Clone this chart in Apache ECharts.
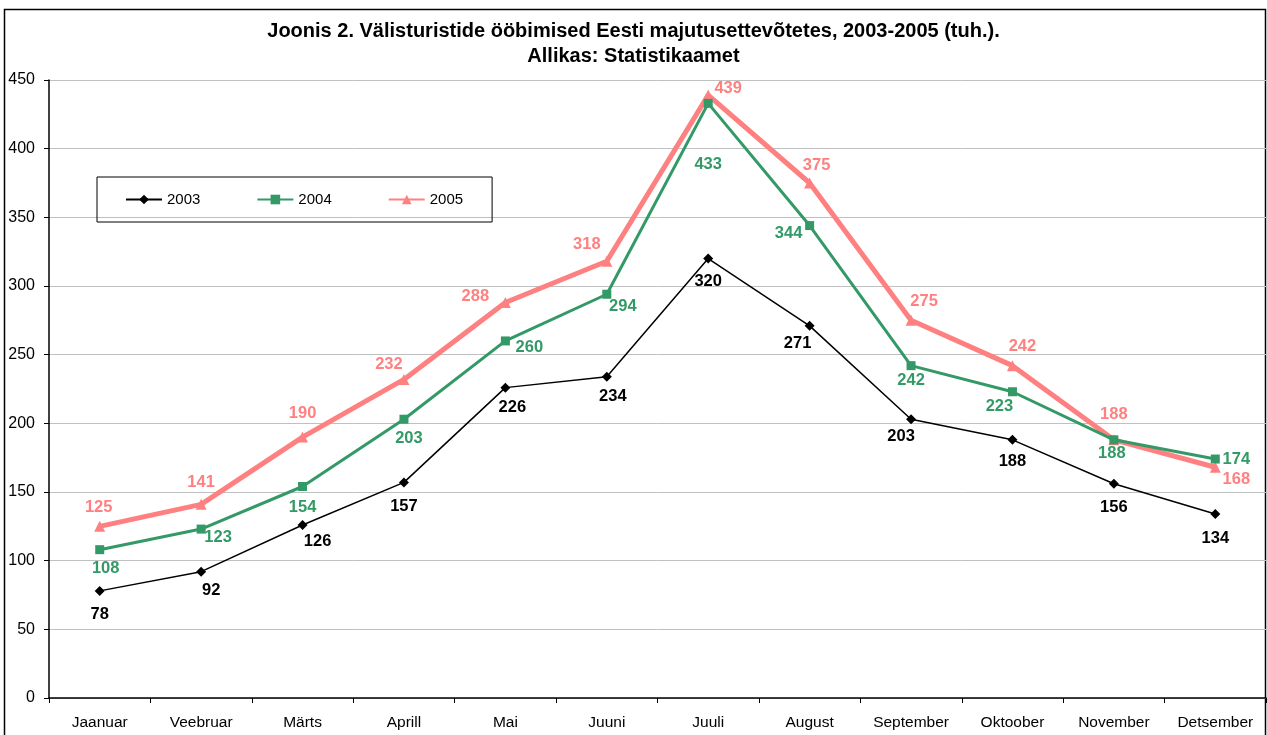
<!DOCTYPE html>
<html>
<head>
<meta charset="utf-8">
<script src="https://cdn.jsdelivr.net/npm/echarts@6/dist/echarts.min.js"></script>
<style>
  html, body { margin: 0; padding: 0; background: #fff; }
  #main { width: 1267px; height: 735px; }
</style>
</head>
<body>
<div id="main"></div>
<script>
var months = ['Jaanuar', 'Veebruar', 'Märts', 'Aprill', 'Mai', 'Juuni', 'Juuli', 'August', 'September', 'Oktoober', 'November', 'Detsember'];
var y2003 = [78, 92, 126, 157, 226, 234, 320, 271, 203, 188, 156, 134];
var y2004 = [108, 123, 154, 203, 260, 294, 433, 344, 242, 223, 188, 174];
var y2005 = [125, 141, 190, 232, 288, 318, 439, 375, 275, 242, 188, 168];

// where each value label sits relative to its point (label centre minus point)
var off2003 = [[0, 24], [10, 19], [15, 16], [0, 24], [7, 20], [6, 20], [0, 23], [-12, 18], [-10, 17], [0, 22], [0, 24], [0, 24]];
var off2004 = [[6, 19], [17, 8], [0, 21], [5, 19], [24, 7], [16, 12], [0, 61], [-21, 8], [0, 15], [-13, 15], [-2, 14], [21, 0]];
var off2005 = [[-1, -19], [0, -22], [0, -24], [-15, -15], [-30, -6], [-20, -17], [20, -7], [7, -18], [13, -19], [10, -19], [0, -25], [21, 12]];

function withLabels(values, offsets) {
    return values.map(function (v, i) {
        return { value: v, label: { position: 'inside', offset: offsets[i] } };
    });
}

var chart = echarts.init(document.getElementById('main'));
var font = 'Liberation Sans, Arial, sans-serif';

chart.setOption({
    animation: false,
    textStyle: { fontFamily: font },
    title: {
        text: 'Joonis 2. Välisturistide ööbimised Eesti majutusettevõtetes, 2003-2005 (tuh.).\nAllikas: Statistikaamet',
        left: 'center',
        top: 14,
        textStyle: { fontSize: 20, fontWeight: 'bold', color: '#000', lineHeight: 25, fontFamily: font }
    },
    graphic: [{
        type: 'rect',
        shape: { x: 4.5, y: 9.5, width: 1261, height: 740 },
        style: { fill: null, stroke: '#000', lineWidth: 1.5 },
        silent: true
    }],
    legend: {
        left: 97,
        top: 177,
        padding: [15, 29, 15, 28],
        itemGap: 56,
        itemWidth: 36,
        itemHeight: 12,
        borderColor: '#000',
        borderWidth: 1,
        textStyle: { fontSize: 15, color: '#000', fontFamily: font },
        data: ['2003', '2004', '2005']
    },
    grid: { left: 49, right: 1, top: 80, bottom: 37, containLabel: false },
    xAxis: {
        type: 'category',
        data: months,
        boundaryGap: true,
        axisLine: { lineStyle: { color: '#000', width: 1.5 } },
        axisTick: { show: true, length: 5, lineStyle: { color: '#000' } },
        axisLabel: { color: '#000', fontSize: 15.5, margin: 17, fontFamily: font }
    },
    yAxis: {
        type: 'value',
        min: 0,
        max: 450,
        interval: 50,
        axisLine: { show: true, lineStyle: { color: '#000', width: 1.5 } },
        axisTick: { show: true, length: 5, lineStyle: { color: '#000' } },
        axisLabel: { color: '#000', fontSize: 16, margin: 14, fontFamily: font },
        splitLine: { lineStyle: { color: '#c0c0c0', width: 1 } }
    },
    series: [
        {
            name: '2003',
            type: 'line',
            data: withLabels(y2003, off2003),
            color: '#000',
            symbol: 'diamond',
            symbolSize: 10,
            lineStyle: { width: 1.5, color: '#000' },
            itemStyle: { color: '#000' },
            label: { show: true, fontSize: 16.5, fontWeight: 'bold', color: '#000' },
            z: 3
        },
        {
            name: '2004',
            type: 'line',
            data: withLabels(y2004, off2004),
            color: '#339966',
            symbol: 'rect',
            symbolSize: 9,
            lineStyle: { width: 3, color: '#339966' },
            itemStyle: { color: '#339966' },
            label: { show: true, fontSize: 16.5, fontWeight: 'bold', color: '#339966' },
            z: 4
        },
        {
            name: '2005',
            type: 'line',
            data: withLabels(y2005, off2005),
            color: '#ff8080',
            symbol: 'triangle',
            symbolSize: 11,
            lineStyle: { width: 5, color: '#ff8080' },
            itemStyle: { color: '#ff8080' },
            label: { show: true, fontSize: 16.5, fontWeight: 'bold', color: '#ff8080' },
            z: 2
        }
    ]
});
</script>
</body>
</html>
